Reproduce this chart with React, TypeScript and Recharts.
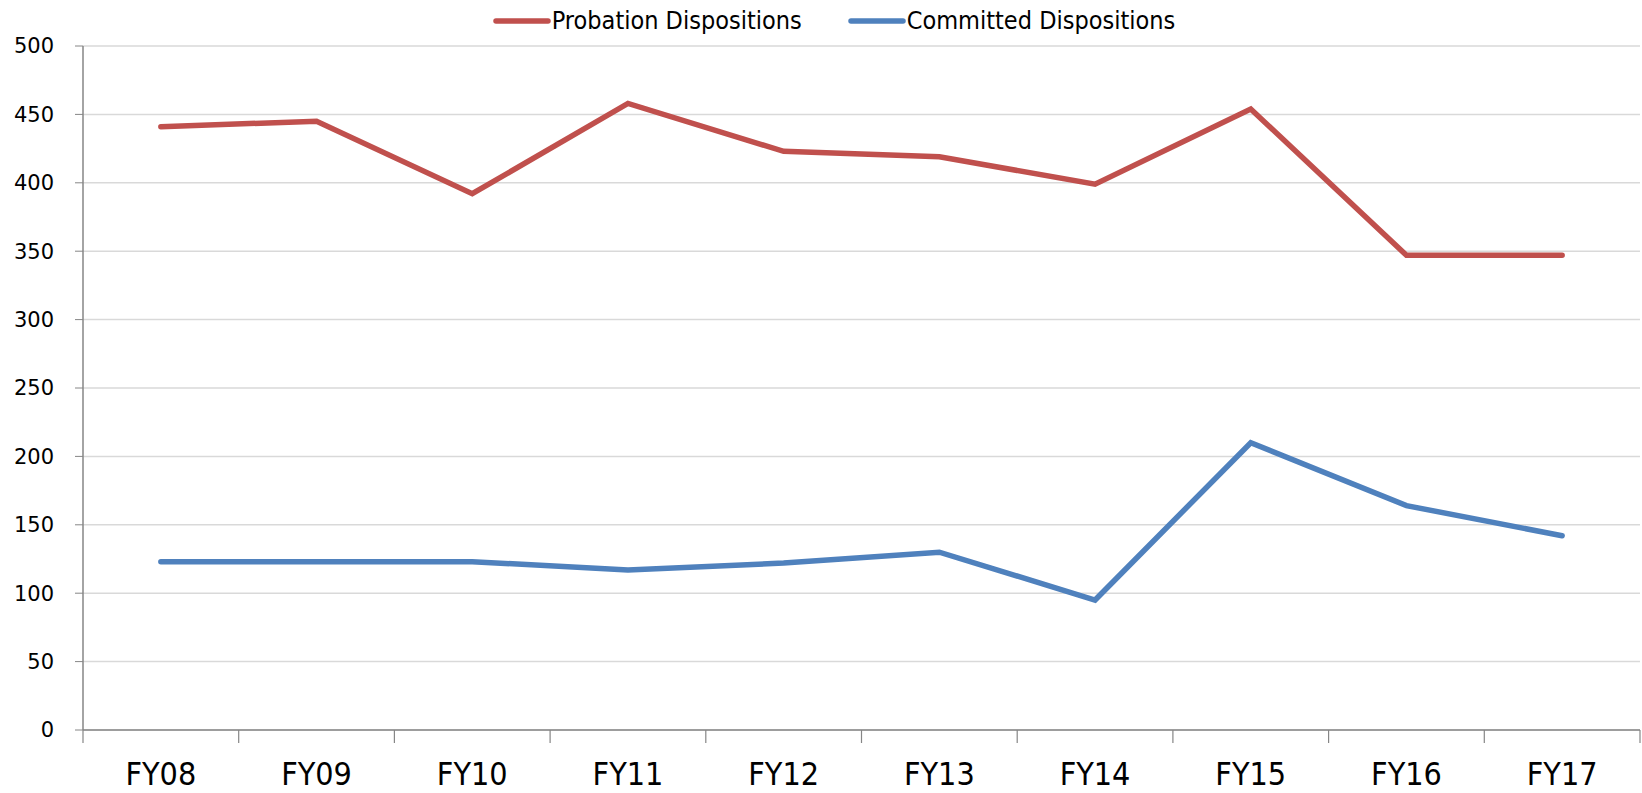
import {
  CartesianGrid,
  Legend,
  Line,
  LineChart,
  XAxis,
  YAxis,
} from "recharts";

const years = ["FY08", "FY09", "FY10", "FY11", "FY12", "FY13", "FY14", "FY15", "FY16", "FY17"];
const probation = [441, 445, 392, 458, 423, 419, 399, 454, 347, 347];
const committed = [123, 123, 123, 117, 122, 130, 95, 210, 164, 142];
const yTicks = [0, 50, 100, 150, 200, 250, 300, 350, 400, 450, 500];

const data = years.map((year, i) => ({
  year,
  probation: probation[i],
  committed: committed[i],
}));

const W = 1642;
const H = 793;
const LEFT = 83;
const RIGHT = 2;
const BAND = (W - LEFT - RIGHT) / years.length;
const NARROW = '"Liberation Sans Narrow", "DejaVu Sans Condensed", sans-serif';

const RED = "#C0504D";
const BLUE = "#4F81BD";

function CategoryTick(props: any) {
  const { x, y, payload, index } = props;
  const left = x - BAND / 2;
  return (
    <g>
      <line x1={left} x2={left} y1={y} y2={y + 13} stroke="#868686" strokeWidth={1.2} />
      {index === years.length - 1 && (
        <line x1={left + BAND} x2={left + BAND} y1={y} y2={y + 13} stroke="#868686" strokeWidth={1.2} />
      )}
      <text x={x} y={y + 55} textAnchor="middle" fontFamily={NARROW} fontSize={32} fill="#000">
        {payload.value}
      </text>
    </g>
  );
}

function TopLegend() {
  const items = [
    { label: "Probation Dispositions", color: RED },
    { label: "Committed Dispositions", color: BLUE },
  ];
  return (
    <div style={{ display: "flex", justifyContent: "center", gap: 46, fontFamily: NARROW, fontSize: 25, lineHeight: "30px", marginLeft: 26 }}>
      {items.map((it) => (
        <div key={it.label} style={{ display: "flex", alignItems: "center" }}>
          <svg width={59} height={10}>
            <line x1={3} x2={55} y1={5} y2={5} stroke={it.color} strokeWidth={5.5} strokeLinecap="round" />
          </svg>
          <span>{it.label}</span>
        </div>
      ))}
    </div>
  );
}

export default function App() {
  return (
    <div style={{ position: "absolute", left: 0, top: 0, width: W, height: H, background: "#fff" }}>
      <LineChart width={W} height={H} data={data} margin={{ top: 46, right: RIGHT, bottom: 0, left: 0 }}>
        <CartesianGrid horizontal vertical={false} stroke="#D9D9D9" strokeWidth={1.5} />
        <XAxis
          dataKey="year"
          scale="band"
          height={63}
          axisLine={{ stroke: "#868686", strokeWidth: 1.5 }}
          tickLine={false}
          tickSize={0}
          tickMargin={0}
          interval={0}
          tick={<CategoryTick />}
        />
        <YAxis
          width={LEFT}
          domain={[0, 500]}
          ticks={yTicks}
          interval={0}
          axisLine={{ stroke: "#868686", strokeWidth: 1.5 }}
          tickLine={{ stroke: "#868686" }}
          tickSize={8}
          tickMargin={21}
          tick={{ fill: "#000", fontSize: 21, fontFamily: "DejaVu Sans" }}
        />
        <Legend
          verticalAlign="middle"
          align="center"
          layout="horizontal"
          wrapperStyle={{ top: 6, left: 0, width: W }}
          content={() => <TopLegend />}
        />
        <Line
          dataKey="probation"
          name="Probation Dispositions"
          stroke={RED}
          strokeWidth={5.5}
          strokeLinecap="round"
          dot={false}
          activeDot={false}
          isAnimationActive={false}
        />
        <Line
          dataKey="committed"
          name="Committed Dispositions"
          stroke={BLUE}
          strokeWidth={5.5}
          strokeLinecap="round"
          dot={false}
          activeDot={false}
          isAnimationActive={false}
        />
      </LineChart>
    </div>
  );
}
